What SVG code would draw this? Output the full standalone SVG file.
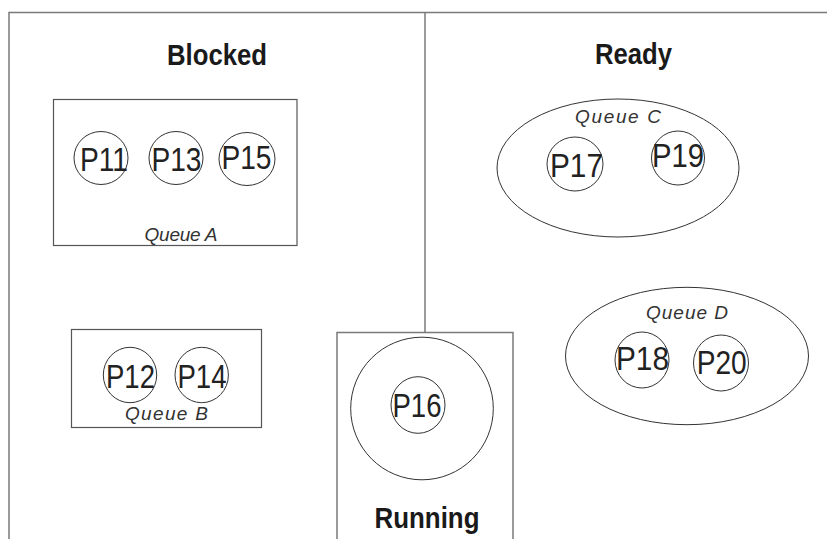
<svg xmlns="http://www.w3.org/2000/svg" width="827" height="539" viewBox="0 0 827 539">
<style>
.frame{stroke:#7a7a7a;stroke-width:1.5;fill:none}
.box{stroke:#555;stroke-width:1.2;fill:none}
.ring{stroke:#333;stroke-width:1;fill:none}
.head{font-family:"Liberation Sans",Arial,sans-serif;font-weight:bold;font-size:29px;fill:#1a1a1a;text-anchor:middle}
.proc{font-family:"Liberation Sans",Arial,sans-serif;font-size:34px;fill:#222;text-anchor:middle}
.queue{font-family:"Liberation Sans",Arial,sans-serif;font-style:italic;font-size:19px;fill:#333;text-anchor:middle}
</style>
<rect width="827" height="539" fill="#fff"/>
<g id="frame">
<polyline class="frame" points="9,539 9,12.5 827,12.5"/>
<line class="frame" x1="425" y1="12.5" x2="425" y2="333"/>
</g>
<g id="connectors"></g>
<g id="blocked">
<text class="head" x="217" y="65" textLength="100" lengthAdjust="spacingAndGlyphs">Blocked</text>
</g>
<g id="ready">
<text class="head" x="633.5" y="64" textLength="77" lengthAdjust="spacingAndGlyphs">Ready</text>
</g>
<g id="queueA">
<rect class="box" x="53.5" y="99.5" width="243.5" height="146"/>
<text class="queue" x="181" y="240.5" textLength="73" lengthAdjust="spacing">Queue A</text>
</g>
<g id="P11"><ellipse class="ring" cx="101" cy="158" rx="27" ry="26.5"/><text class="proc" x="104" y="170.5" textLength="48" lengthAdjust="spacingAndGlyphs">P11</text></g>
<g id="P13"><ellipse class="ring" cx="176" cy="158" rx="27" ry="26.5"/><text class="proc" x="176.5" y="170.5" textLength="50" lengthAdjust="spacingAndGlyphs">P13</text></g>
<g id="P15"><ellipse class="ring" cx="247" cy="159" rx="28" ry="26.5"/><text class="proc" x="246.5" y="168.5" textLength="50" lengthAdjust="spacingAndGlyphs">P15</text></g>
<g id="queueB">
<rect class="box" x="71.5" y="329.5" width="190" height="98"/>
<text class="queue" x="166.5" y="420" textLength="83" lengthAdjust="spacing">Queue B</text>
</g>
<g id="P12"><ellipse class="ring" cx="130" cy="375" rx="26.7" ry="27.7"/><text class="proc" x="130.5" y="388" textLength="49" lengthAdjust="spacingAndGlyphs">P12</text></g>
<g id="P14"><ellipse class="ring" cx="201.7" cy="375" rx="26.7" ry="27.7"/><text class="proc" x="202" y="388" textLength="49" lengthAdjust="spacingAndGlyphs">P14</text></g>
<g id="running">
<polyline class="frame" points="337,539 337,332.5 513,332.5 513,539"/>
<circle class="ring" cx="422" cy="408.5" r="71.3"/>
<text class="head" x="427" y="528" textLength="105" lengthAdjust="spacingAndGlyphs">Running</text>
</g>
<g id="P16"><ellipse class="ring" cx="418" cy="405" rx="27" ry="28.3"/><text class="proc" x="417" y="417" textLength="49" lengthAdjust="spacingAndGlyphs">P16</text></g>
<g id="queueC">
<ellipse class="ring" cx="618" cy="168" rx="121" ry="69"/>
<text class="queue" x="618" y="123" textLength="86" lengthAdjust="spacing">Queue C</text>
</g>
<g id="P17"><ellipse class="ring" cx="575" cy="164" rx="28" ry="27"/><text class="proc" x="576.5" y="177" textLength="53" lengthAdjust="spacingAndGlyphs">P17</text></g>
<g id="P19"><ellipse class="ring" cx="678" cy="158" rx="26.5" ry="27"/><text class="proc" x="678" y="167" textLength="52" lengthAdjust="spacingAndGlyphs">P19</text></g>
<g id="queueD">
<ellipse class="ring" cx="687" cy="356" rx="121.5" ry="68.7"/>
<text class="queue" x="687" y="319" textLength="82" lengthAdjust="spacing">Queue D</text>
</g>
<g id="P18"><ellipse class="ring" cx="642" cy="360" rx="27" ry="28"/><text class="proc" x="642.5" y="370" textLength="53" lengthAdjust="spacingAndGlyphs">P18</text></g>
<g id="P20"><ellipse class="ring" cx="721" cy="363" rx="27.5" ry="28"/><text class="proc" x="721.7" y="373.5" textLength="50" lengthAdjust="spacingAndGlyphs">P20</text></g>
</svg>
